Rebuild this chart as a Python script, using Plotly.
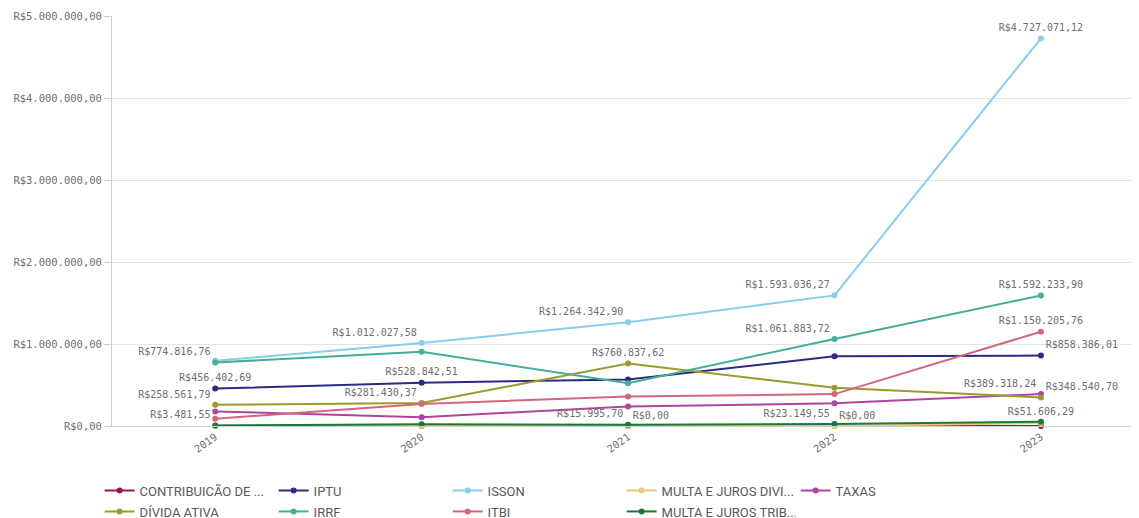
import plotly.graph_objects as go

# ── Data ──────────────────────────────────────────────────────────────────────
years = ["2019", "2020", "2021", "2022", "2023"]

contribuicao = [3481.55, 0, 0, 0, 0]
iptu = [456402.69, 528842.51, 566000, 850000, 858386.01]
issqn = [795000, 1012027.58, 1264342.90, 1593036.27, 4727071.12]
multa_divi = [0, 0, 0.00, 0.00, 36000]
taxas = [177000, 108000, 237000, 277000, 389318.24]
divida_ativa = [258561.79, 281430.37, 760837.62, 466000, 348540.70]
irrf = [774816.76, 904000, 522000, 1061883.72, 1592233.90]
itbi = [88000, 269000, 361000, 389000, 1150205.76]
multa_trib = [6000, 20000, 15995.70, 23149.55, 51606.29]

y_ticks = [0, 1e6, 2e6, 3e6, 4e6, 5e6]

# (name, values, colour, legend row)
series = [
    ("CONTRIBUIÇÃO DE ...", contribuicao, "#8b1e4f", "legend"),
    ("IPTU", iptu, "#2b2a84", "legend"),
    ("ISSQN", issqn, "#87ceeb", "legend"),
    ("MULTA E JUROS DIVI...", multa_divi, "#e6cc6e", "legend"),
    ("TAXAS", taxas, "#b0449c", "legend"),
    ("DÍVIDA ATIVA", divida_ativa, "#9c9a2e", "legend2"),
    ("IRRF", irrf, "#45ad98", "legend2"),
    ("ITBI", itbi, "#d4677b", "legend2"),
    ("MULTA E JUROS TRIB...", multa_trib, "#17783a", "legend2"),
]

# which points carry a value label, and where it sits
labels = {
    "CONTRIBUIÇÃO DE ...": {0: "top left"},
    "IPTU": {0: "top center", 1: "top center", 4: "top right"},
    "ISSQN": {1: "top left", 2: "top left", 3: "top left", 4: "top center"},
    "MULTA E JUROS DIVI...": {2: "top right", 3: "top right"},
    "TAXAS": {4: "top left"},
    "DÍVIDA ATIVA": {0: "top left", 1: "top left", 2: "top center", 4: "top right"},
    "IRRF": {0: "top left", 3: "top left", 4: "top center"},
    "ITBI": {4: "top center"},
    "MULTA E JUROS TRIB...": {2: "top left", 3: "top left", 4: "top center"},
}


def brl(v):
    s = f"{v:,.2f}".replace(",", "X").replace(".", ",").replace("X", ".")
    return "R$" + s


fig = go.Figure()
for name, vals, color, leg in series:
    lab = labels.get(name, {})
    text = [brl(v) if i in lab else "" for i, v in enumerate(vals)]
    pos = [lab.get(i, "top center") for i in range(len(vals))]
    fig.add_trace(go.Scatter(
        x=years, y=vals, name=name, legend=leg,
        mode="lines+markers+text",
        line=dict(color=color, width=2),
        marker=dict(color=color, size=6),
        text=text, textposition=pos,
        textfont=dict(family="DejaVu Sans Mono", size=10, color="#6e6e6e"),
        cliponaxis=False,
    ))

legend_style = dict(
    orientation="h", xref="container", x=0.081, xanchor="left",
    yref="container", yanchor="top",
    entrywidth=129, entrywidthmode="pixels",
    font=dict(family="Liberation Sans Narrow, Roboto", size=13, color="#595959"),
    itemwidth=30,
)

# page body adds an 8px offset, so the figure is 8px smaller than the window
fig.update_layout(
    width=1131, height=510,
    plot_bgcolor="white", paper_bgcolor="white",
    margin=dict(l=104, r=0, t=8, b=92, autoexpand=False),
    font=dict(family="DejaVu Sans Mono", color="#6e6e6e", size=10.5),
    xaxis=dict(
        type="category", range=[-0.5, 4.475],
        tickangle=-35, showgrid=False,
        showline=True, linecolor="#cfcfcf", ticks="",
        tickfont=dict(size=10.5, color="#6e6e6e"),
    ),
    yaxis=dict(
        range=[0, 5000000], tickvals=y_ticks,
        ticktext=[brl(v) for v in y_ticks],
        gridcolor="#e3e3e3", zeroline=False,
        showline=True, linecolor="#cfcfcf",
        ticks="outside", ticklen=7, tickcolor="#cfcfcf",
        tickfont=dict(size=10.5, color="#6e6e6e"),
        ticklabeloverflow="allow",
    ),
    legend=dict(legend_style, y=0.0833),
    legend2=dict(legend_style, y=0.0422),
)

fig.write_html("out.html")
